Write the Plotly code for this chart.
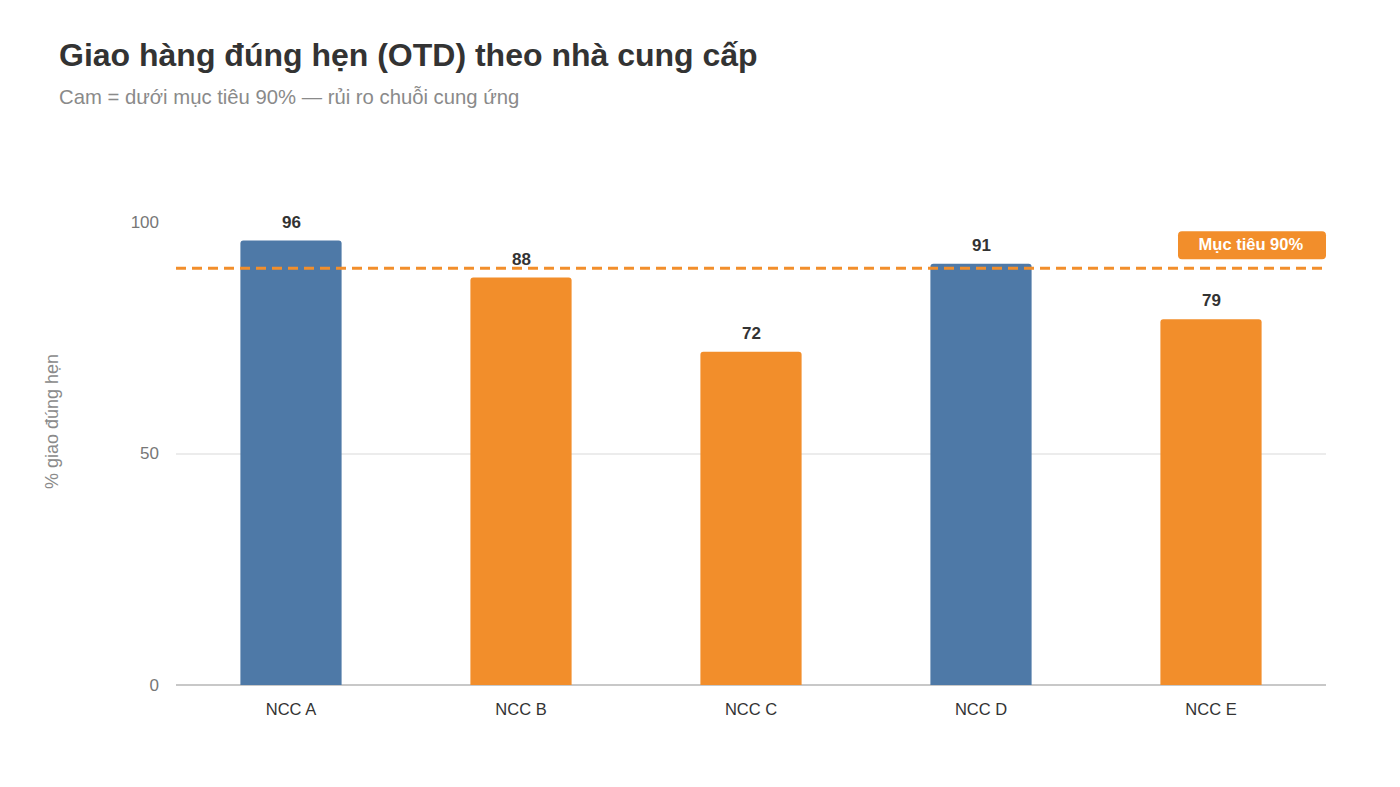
import plotly.graph_objects as go

categories = ["NCC A", "NCC B", "NCC C", "NCC D", "NCC E"]
otd_values = [96, 88, 72, 91, 79]
target = 90
tick_values = [0, 50, 100]
tick_labels = ["0", "50", "100"]

BLUE = "#4E79A7"
ORANGE = "#F28E2B"
FONT = "Liberation Sans, Arial, sans-serif"
colors = [BLUE if v >= target else ORANGE for v in otd_values]

fig = go.Figure()
fig.add_trace(go.Bar(
    x=categories, y=otd_values,
    marker=dict(color=colors, line=dict(width=0)),
    width=0.44,
    hoverinfo="skip",
))

# value labels above bars
for c, v in zip(categories, otd_values):
    fig.add_annotation(x=c, y=v, xref="x", yref="y", text=f"<b>{v}</b>", showarrow=False,
                       yanchor="bottom", yshift=7,
                       font=dict(family=FONT, size=17, color="#333333"))

fig.add_shape(type="line", xref="paper", yref="y", x0=0, x1=1, y0=target, y1=target,
              line=dict(color=ORANGE, width=3, dash="10px,6px"), layer="above")

# rounded badge background (pixel-sized, anchored at right edge / target line)
w, h, r, off = 148, 28, 4, 9
badge_path = (f"M {-w + r},{off} L {-r},{off} Q 0,{off} 0,{off + r} "
              f"L 0,{off + h - r} Q 0,{off + h} {-r},{off + h} "
              f"L {-w + r},{off + h} Q {-w},{off + h} {-w},{off + h - r} "
              f"L {-w},{off + r} Q {-w},{off} {-w + r},{off} Z")
fig.add_shape(type="path", xref="paper", yref="y", xsizemode="pixel", ysizemode="pixel",
              xanchor=1, yanchor=target, path=badge_path,
              fillcolor=ORANGE, line=dict(width=0), layer="above")
fig.add_annotation(xref="paper", yref="y", x=1, y=target, xanchor="right", yanchor="bottom",
                   yshift=9, text="<b>Mục tiêu 90%</b>", showarrow=False,
                   width=146, height=26, align="center", valign="middle",
                   font=dict(family=FONT, size=16.5, color="white"),
                   borderpad=1)

# title & subtitle
fig.add_annotation(xref="paper", yref="paper", x=-0.1035, y=1.3607, xanchor="left", yanchor="middle",
                   text="<b>Giao hàng đúng hẹn (OTD) theo nhà cung cấp</b>", showarrow=False,
                   font=dict(family=FONT, size=32, color="#333333"))
fig.add_annotation(xref="paper", yref="paper", x=-0.1035, y=1.270, xanchor="left", yanchor="middle",
                   text="Cam = dưới mục tiêu 90% — rủi ro chuỗi cung ứng", showarrow=False,
                   font=dict(family=FONT, size=20.3, color="#8a8a8a"))

# y axis title
fig.add_annotation(xref="paper", yref="paper", x=-0.1078, y=0.568, xanchor="center", yanchor="middle",
                   text="% giao đúng hẹn", textangle=-90, showarrow=False,
                   font=dict(family=FONT, size=18, color="#8a8a8a"))

fig.update_layout(
    width=1400, height=787,
    margin=dict(l=176, r=74, t=222, b=102),
    paper_bgcolor="white", plot_bgcolor="white",
    barcornerradius=3,
    showlegend=False,
    font=dict(family=FONT),
    xaxis=dict(
        tickfont=dict(size=16.5, color="#333333"),
        showgrid=False, showline=False, ticks="",
        ticklabelstandoff=12,
    ),
    yaxis=dict(
        range=[0, 100],
        tickvals=tick_values, ticktext=tick_labels,
        tickfont=dict(size=17, color="#777777"),
        gridcolor="#ececec", gridwidth=1.5,
        zeroline=True, zerolinecolor="#c8c8c8", zerolinewidth=2,
        showline=False, ticks="",
        ticklabelstandoff=16,
    ),
)

fig.write_html("out.html")
